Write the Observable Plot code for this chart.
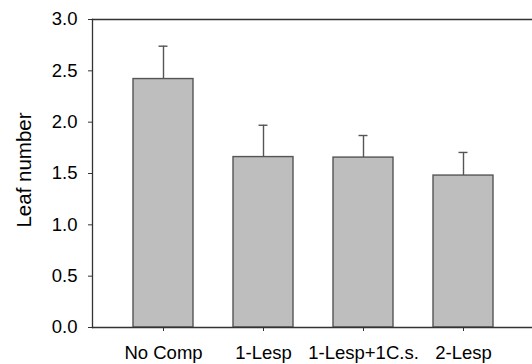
<!DOCTYPE html>
<html>
<head>
<meta charset="utf-8">
<script src="https://cdn.jsdelivr.net/npm/d3@7"></script>
<script src="https://cdn.jsdelivr.net/npm/@observablehq/plot@0.6"></script>
<style>
  html, body { margin: 0; padding: 0; background: #fff; }
  svg { display: block; }
</style>
</head>
<body>
<div id="chart"></div>
<script>
const groups = ["No Comp", "1-Lesp", "1-Lesp+1C.s.", "2-Lesp"];
const means = [2.42, 1.66, 1.655, 1.48];
const errs = [0.32, 0.31, 0.215, 0.225];
const yTicks = [0, 0.5, 1.0, 1.5, 2.0, 2.5, 3.0];
const yLabel = "Leaf number";

const data = groups.map((g, i) => ({ group: g, mean: means[i], top: means[i] + errs[i] }));

const axisColor = "#333";
const chart = Plot.plot({
  width: 532,
  height: 364,
  marginLeft: 92,
  marginRight: -1,
  marginTop: 19,
  marginBottom: 37,
  style: { fontFamily: "Arial, 'Liberation Sans', sans-serif", fontSize: "18.5px", color: "#000", background: "#fff" },
  x: { domain: groups, padding: 0.4, label: null },
  y: { domain: [0, 3], label: null },
  marks: [
    Plot.ruleX(data, { x: "group", y1: "mean", y2: "top", stroke: "#555", strokeWidth: 1.4 }),
    Plot.tickY(data, { x: "group", y: "top", stroke: "#555", strokeWidth: 1.4, insetLeft: 25.5, insetRight: 25.5 }),
    Plot.barY(data, { x: "group", y: "mean", fill: "#bebebe", stroke: "#555", strokeWidth: 1.4 }),
    Plot.axisY({ ticks: yTicks, tickFormat: d3.format(".1f"), tickSize: 4, tickPadding: 11, stroke: axisColor, label: null, fontSize: "18.5px" }),
    Plot.axisX({ tickSize: 4, tickPadding: 14, stroke: axisColor, label: null, fontSize: "18.5px" }),
    Plot.text([yLabel], { frameAnchor: "left", text: d => d, rotate: -90, dx: -68, dy: -3.5, fontSize: 20.5, fill: "#000", textAnchor: "middle", lineAnchor: "middle" }),
    Plot.frame({ anchor: "left", stroke: axisColor, strokeWidth: 1.3 }),
    Plot.frame({ anchor: "top", stroke: axisColor, strokeWidth: 1.3 }),
    Plot.frame({ anchor: "bottom", stroke: axisColor, strokeWidth: 1.3 })
  ]
});
document.getElementById("chart").appendChild(chart);
</script>
</body>
</html>
